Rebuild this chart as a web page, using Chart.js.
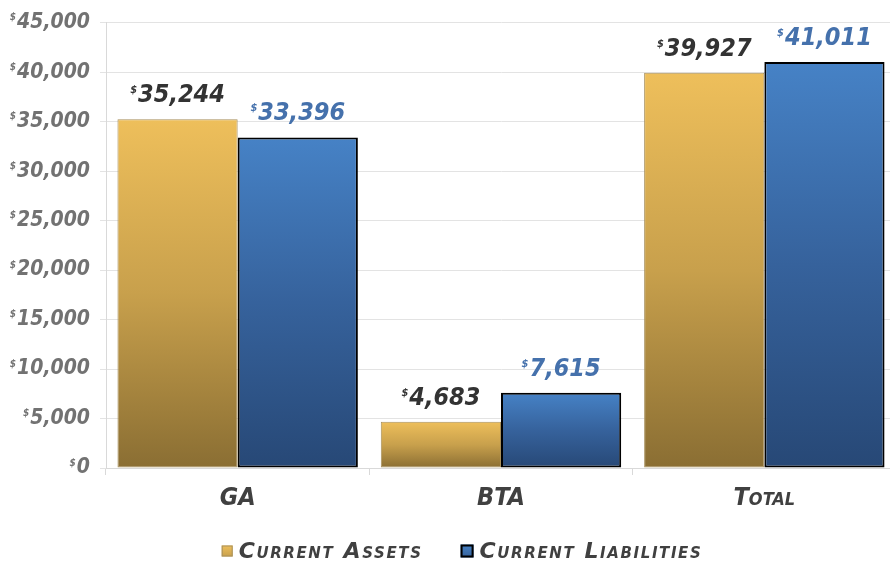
<!DOCTYPE html>
<html>
<head>
<meta charset="utf-8">
<script src="https://cdn.jsdelivr.net/npm/chart.js@4.4.1/dist/chart.umd.min.js"></script>
<style>
  html, body { margin: 0; padding: 0; background: #fff; overflow: hidden; }
  #wrap { width: 896px; height: 565px; }
</style>
</head>
<body>
<div id="wrap"><canvas id="assetsChart" width="896" height="565"></canvas></div>
<script>
// Values
const categories = ['GA', 'BTA', 'Total'];
const currentAssets = [35244, 4683, 39927];
const currentLiabilities = [33396, 7615, 41011];
const seriesNames = ['Current Assets', 'Current Liabilities'];
const yMax = 45000;
const yStep = 5000;

const FONT = '"DejaVu Sans Condensed", "DejaVu Sans", sans-serif';
const gold = ['#EEBF5B', '#C8A04C', '#8A6E33'];
const blue = ['#4682C6', '#36629C', '#274876'];

// vertical gradient for each bar, from its top down to zero
function barFill(stops) {
    return function (c) {
        const chart = c.chart;
        if (c.type !== 'data' || !chart.chartArea) return stops[1];
        const y = chart.scales.y;
        const g = chart.ctx.createLinearGradient(0, y.getPixelForValue(c.raw), 0, y.getPixelForValue(0));
        g.addColorStop(0, stops[0]);
        g.addColorStop(0.5, stops[1]);
        g.addColorStop(1, stops[2]);
        return g;
    };
}

// labels above bars with a small raised "$"
const valueLabels = {
    id: 'valueLabels',
    afterDatasetsDraw(chart) {
        const ctx = chart.ctx;
        const colors = ['#333333', '#4571AC'];
        ctx.save();
        chart.data.datasets.forEach((ds, di) => {
            const meta = chart.getDatasetMeta(di);
            meta.data.forEach((bar, i) => {
                const txt = ds.data[i].toLocaleString('en-US');
                ctx.font = 'italic bold 25px ' + FONT;
                const w = ctx.measureText(txt).width;
                ctx.font = 'italic bold 11px ' + FONT;
                const sw = ctx.measureText('$').width;
                const x0 = bar.x - (sw + 1 + w) / 2;
                const base = bar.y - 17;
                ctx.fillStyle = colors[di];
                ctx.textAlign = 'left';
                ctx.textBaseline = 'alphabetic';
                ctx.fillText('$', x0, base - 9);
                ctx.font = 'italic bold 25px ' + FONT;
                ctx.fillText(txt, x0 + sw + 1, base);
            });
        });
        ctx.restore();
    }
};

// small raised "$" in front of the y tick labels
const tickDollars = {
    id: 'tickDollars',
    afterDraw(chart) {
        const s = chart.scales.y;
        const ctx = chart.ctx;
        const right = s.right - s.options.grid.tickLength - s.options.ticks.padding;
        ctx.save();
        ctx.fillStyle = '#727272';
        ctx.textBaseline = 'middle';
        ctx.textAlign = 'right';
        s.ticks.forEach((t, i) => {
            const y = s.getPixelForTick(i);
            ctx.font = 'italic bold 21px ' + FONT;
            const w = ctx.measureText(t.label).width;
            ctx.font = 'italic bold 10px ' + FONT;
            ctx.fillText('$', right - w - 1, y - 5);
        });
        ctx.restore();
    }
};

// legend in small caps, drawn under the axis labels
const capsLegend = {
    id: 'capsLegend',
    afterDraw(chart) {
        const ctx = chart.ctx;
        const y = 551;
        const boxes = [
            { size: 11, fill: gold, stroke: '#A8905C', lw: 1 },
            { size: 13, fill: blue, stroke: '#000000', lw: 2 }
        ];
        ctx.save();
        ctx.font = 'italic small-caps bold 22px "DejaVu Sans", sans-serif';
        ctx.letterSpacing = '1.6px';
        ctx.textBaseline = 'middle';
        ctx.textAlign = 'left';
        const widths = seriesNames.map(n => ctx.measureText(n).width);
        const gapBox = 6, gapItem = 38;
        let total = gapItem;
        boxes.forEach((b, i) => { total += b.size + gapBox + widths[i]; });
        let x = 462 - total / 2;
        boxes.forEach((b, i) => {
            const top = y - b.size / 2;
            const g = ctx.createLinearGradient(0, top, 0, top + b.size);
            g.addColorStop(0, b.fill[0]);
            g.addColorStop(1, b.fill[1]);
            ctx.fillStyle = g;
            ctx.fillRect(x, top, b.size, b.size);
            ctx.strokeStyle = b.stroke;
            ctx.lineWidth = b.lw;
            ctx.strokeRect(x + b.lw / 2, top + b.lw / 2, b.size - b.lw, b.size - b.lw);
            x += b.size + gapBox;
            ctx.fillStyle = '#404040';
            ctx.fillText(seriesNames[i], x, y + 1);
            x += widths[i] + gapItem;
        });
        ctx.restore();
    }
};

new Chart(document.getElementById('assetsChart'), {
    type: 'bar',
    data: {
        labels: categories,
        datasets: [{
            label: seriesNames[0],
            data: currentAssets,
            backgroundColor: barFill(gold),
            borderColor: '#A8905C',
            borderWidth: 1,
            borderSkipped: false
        }, {
            label: seriesNames[1],
            data: currentLiabilities,
            backgroundColor: barFill(blue),
            borderColor: '#000000',
            borderWidth: 2,
            borderSkipped: false
        }]
    },
    options: {
        responsive: false,
        animation: false,
        layout: { padding: { top: 21, right: 0, bottom: 47, left: 0 } },
        datasets: { bar: { categoryPercentage: 0.913, barPercentage: 1.0 } },
        scales: {
            x: {
                grid: { drawOnChartArea: false, drawTicks: true, tickLength: 7, color: '#d9d9d9', offset: true },
                border: { color: '#d9d9d9' },
                ticks: {
                    color: '#404040',
                    padding: 8,
                    font: { family: FONT, size: 25, style: 'italic', weight: 'small-caps bold' }
                },
                afterFit: (s) => { s.height = 50; }
            },
            y: {
                min: 0,
                max: yMax,
                grid: { color: '#e3e3e3', tickLength: 6 },
                border: { color: '#d9d9d9' },
                ticks: {
                    stepSize: yStep,
                    padding: 10,
                    color: '#727272',
                    font: { family: FONT, size: 21, style: 'italic', weight: 'bold' },
                    callback: (v) => v.toLocaleString('en-US')
                },
                afterFit: (s) => { s.width = 106; }
            }
        },
        plugins: {
            tooltip: { enabled: false },
            legend: { display: false }
        }
    },
    plugins: [valueLabels, tickDollars, capsLegend]
});
</script>
</body>
</html>
